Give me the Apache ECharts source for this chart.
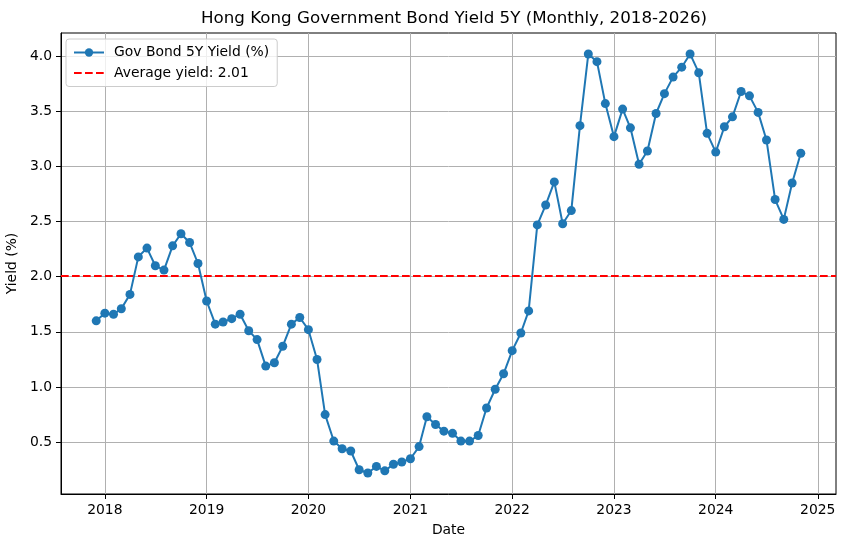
<!DOCTYPE html>
<html>
<head>
<meta charset="utf-8">
<script src="https://cdn.jsdelivr.net/npm/echarts@6/dist/echarts.min.js"></script>
<style>
html,body{margin:0;padding:0;background:#fff;}
#chart{width:846px;height:547px;}
</style>
</head>
<body>
<div id="chart"></div>
<script>
// ---- data ----
const months = [
  '2017-12',
  '2018-01','2018-02','2018-03','2018-04','2018-05','2018-06','2018-07','2018-08','2018-09','2018-10','2018-11','2018-12',
  '2019-01','2019-02','2019-03','2019-04','2019-05','2019-06','2019-07','2019-08','2019-09','2019-10','2019-11','2019-12',
  '2020-01','2020-02','2020-03','2020-04','2020-05','2020-06','2020-07','2020-08','2020-09','2020-10','2020-11','2020-12',
  '2021-01','2021-02','2021-03','2021-04','2021-05','2021-06','2021-07','2021-08','2021-09','2021-10','2021-11','2021-12',
  '2022-01','2022-02','2022-03','2022-04','2022-05','2022-06','2022-07','2022-08','2022-09','2022-10','2022-11','2022-12',
  '2023-01','2023-02','2023-03','2023-04','2023-05','2023-06','2023-07','2023-08','2023-09','2023-10','2023-11','2023-12',
  '2024-01','2024-02','2024-03','2024-04','2024-05','2024-06','2024-07','2024-08','2024-09','2024-10','2024-11'
];
const yields = [
  1.60,
  1.67,1.66,1.71,1.84,2.18,2.26,2.10,2.06,2.28,2.39,2.31,2.12,
  1.78,1.57,1.59,1.62,1.66,1.51,1.43,1.19,1.22,1.37,1.57,1.63,
  1.52,1.25,0.75,0.51,0.44,0.42,0.25,0.22,0.28,0.24,0.30,0.32,
  0.35,0.46,0.73,0.66,0.60,0.58,0.51,0.51,0.56,0.81,0.98,1.12,
  1.33,1.49,1.69,2.47,2.65,2.86,2.48,2.60,3.37,4.02,3.95,3.57,
  3.27,3.52,3.35,3.02,3.14,3.48,3.66,3.81,3.90,4.02,3.85,3.30,
  3.13,3.36,3.45,3.68,3.64,3.49,3.24,2.70,2.52,2.85,3.12
];
const xTickYears = [2018, 2019, 2020, 2021, 2022, 2023, 2024, 2025];
const yTickValues = [0.5, 1.0, 1.5, 2.0, 2.5, 3.0, 3.5, 4.0];

const titleText = 'Hong Kong Government Bond Yield 5Y (Monthly, 2018-2026)';
const seriesName = 'Gov Bond 5Y Yield (%)';

// ---- derived ----
function monthTs(s) { const p = s.split('-'); return Date.UTC(+p[0], +p[1] - 1, 1); }
const times = months.map(monthTs);
const seriesData = times.map((t, i) => [t, yields[i]]);
const avg = yields.reduce((a, b) => a + b, 0) / yields.length;
const avgName = 'Average yield: ' + avg.toFixed(2);
const xTicks = xTickYears.map(y => Date.UTC(y, 0, 1));
const tMin = times[0], tMax = times[times.length - 1];
const xPad = 0.05 * (tMax - tMin);
const yLo = Math.min.apply(null, yields), yHi = Math.max.apply(null, yields);
const yPad = 0.05 * (yHi - yLo);

const FONT = 'DejaVu Sans';
const GRID_COLOR = '#b0b0b0';
const BLUE = '#1f77b4';
const RED = '#ff0000';
const DASH = [7.7, 3.3];
const YEAR_MS = 365.25 * 86400000;

const chart = echarts.init(document.getElementById('chart'), null, { renderer: 'canvas' });
chart.setOption({
  animation: false,
  backgroundColor: '#ffffff',
  textStyle: { fontFamily: FONT },
  title: {
    text: titleText,
    left: 449,
    top: 5,
    textAlign: 'center',
    textStyle: { fontFamily: FONT, fontSize: 16.7, fontWeight: 'normal', color: '#000' }
  },
  grid: {
    left: 61, right: 10, top: 33, bottom: 53,
    containLabel: false,
    outerBoundsMode: 'none',
    show: true,
    borderColor: '#000', borderWidth: 1,
    backgroundColor: 'transparent'
  },
  legend: {
    show: true,
    orient: 'vertical',
    left: 66, top: 39,
    padding: [6.5, 8, 6.5, 7],
    itemWidth: 30, itemHeight: 10.4, itemGap: 6.5,
    backgroundColor: 'rgba(255,255,255,0.8)',
    borderColor: '#cccccc', borderWidth: 1, borderRadius: 3,
    textStyle: { fontFamily: FONT, fontSize: 13.9, color: '#000', padding: [0, 0, 0, 5] },
    data: [
      { name: seriesName },
      { name: avgName, itemStyle: { color: 'rgba(0,0,0,0)', opacity: 0, borderWidth: 0 },
        lineStyle: { color: RED, width: 2, type: DASH } }
    ]
  },
  xAxis: {
    type: 'value',
    scale: true,
    min: tMin - xPad,
    max: tMax + xPad,
    minInterval: YEAR_MS,
    maxInterval: YEAR_MS,
    name: 'Date',
    nameLocation: 'middle',
    nameGap: 29,
    nameTextStyle: { fontFamily: FONT, fontSize: 13.9, color: '#000' },
    axisLine: { show: true, onZero: false, lineStyle: { color: '#000', width: 1 } },
    axisTick: { show: true, inside: false, length: 5, lineStyle: { color: '#000', width: 1 }, customValues: xTicks },
    axisLabel: {
      show: true, margin: 9, color: '#000', fontFamily: FONT, fontSize: 13.9,
      customValues: xTicks,
      formatter: function (v) { return String(new Date(v + 86400000).getUTCFullYear()); }
    },
    splitLine: { show: true, lineStyle: { color: GRID_COLOR, width: 1 } }
  },
  yAxis: {
    type: 'value',
    min: yLo - yPad,
    max: yHi + yPad,
    minInterval: 0.5,
    maxInterval: 0.5,
    name: 'Yield (%)',
    nameLocation: 'middle',
    nameGap: 34,
    nameRotate: 90,
    nameTextStyle: { fontFamily: FONT, fontSize: 13.9, color: '#000' },
    axisLine: { show: true, onZero: false, lineStyle: { color: '#000', width: 1 } },
    axisTick: { show: true, inside: false, length: 5, lineStyle: { color: '#000', width: 1 }, customValues: yTickValues },
    axisLabel: {
      show: true, margin: 9, color: '#000', fontFamily: FONT, fontSize: 13.9,
      customValues: yTickValues,
      formatter: function (v) { return v.toFixed(1); }
    },
    splitLine: { show: true, lineStyle: { color: GRID_COLOR, width: 1 } }
  },
  series: [
    {
      name: seriesName,
      type: 'line',
      data: seriesData,
      z: 5,
      symbol: 'circle',
      symbolSize: 9,
      showSymbol: true,
      showAllSymbol: true,
      lineStyle: { color: BLUE, width: 2 },
      itemStyle: { color: BLUE, borderWidth: 0 },
      emphasis: { disabled: true }
    },
    {
      name: avgName,
      type: 'line',
      data: [],
      z: 4,
      symbol: 'none',
      lineStyle: { color: RED, width: 2, type: DASH },
      itemStyle: { color: RED },
      markLine: {
        silent: true,
        symbol: 'none',
        label: { show: false },
        lineStyle: { color: RED, width: 2, type: DASH },
        emphasis: { disabled: true },
        data: [{ yAxis: avg }]
      }
    }
  ]
});
</script>
</body>
</html>
